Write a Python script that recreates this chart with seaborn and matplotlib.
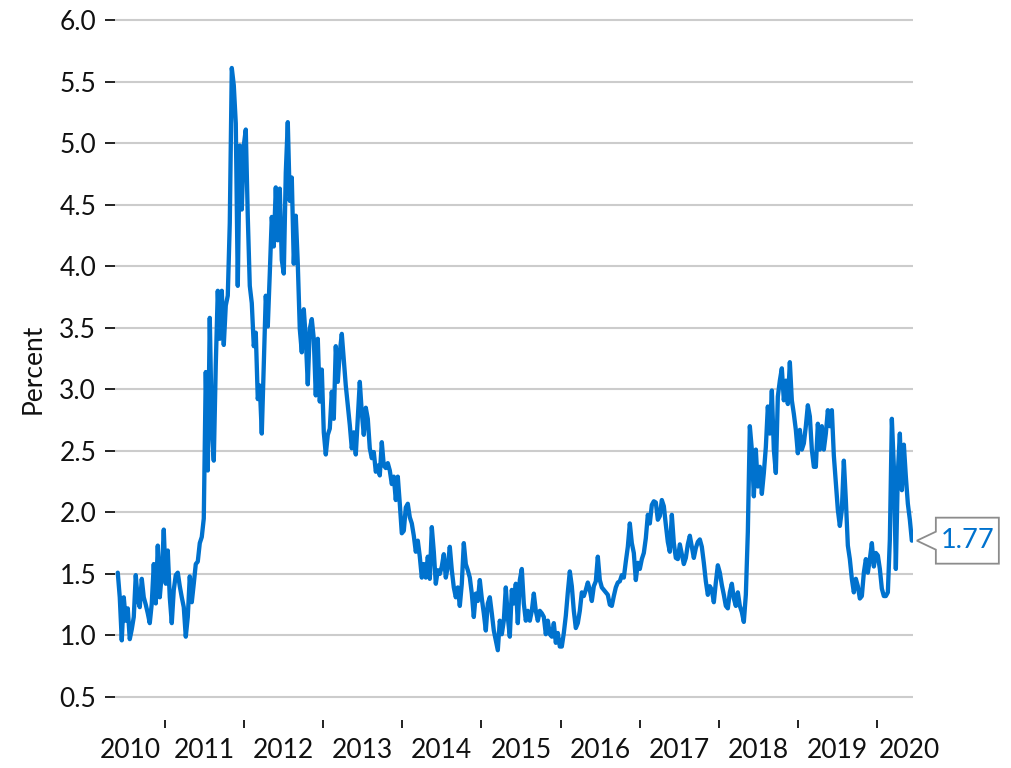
import numpy as np
import pandas as pd
import matplotlib
matplotlib.use("Agg")
import matplotlib.pyplot as plt
import matplotlib.dates as mdates
from matplotlib.patches import Polygon
from matplotlib.transforms import Affine2D, ScaledTranslation
import seaborn as sns

# ---------------- data ----------------
start_date = "2010-05-28"
end_date = "2020-06-10"

values_2010_2011 = [
    1.51, 1.31, 0.96, 1.31, 1.12, 1.22, 0.97, 1.05, 1.15, 1.49, 1.29, 1.23, 1.46, 1.31,
    1.25, 1.18, 1.10, 1.26, 1.58, 1.26, 1.73, 1.31, 1.50, 1.86, 1.42, 1.69, 1.31, 1.10,
    1.37, 1.49, 1.51, 1.40, 1.31, 1.23, 0.99, 1.15, 1.48, 1.27, 1.42, 1.58, 1.60, 1.75,
    1.80, 1.95, 3.14, 2.34, 3.58, 2.69, 2.42, 3.20, 3.80, 3.41, 3.80, 3.36, 3.68, 3.76,
    4.35, 5.61, 5.47, 5.16, 3.84, 4.98, 4.46, 4.98, 5.11, 4.40, 3.84, 3.70, 3.35, 3.46,
    2.92, 3.03, 2.64, 3.19, 3.76, 3.51, 3.94, 4.40, 4.16, 4.64, 4.21, 4.63, 4.05, 3.94,
]
values_2012_2014 = [
    4.76, 5.17, 4.53, 4.72, 4.02, 4.41, 4.02, 3.49, 3.30, 3.65, 3.41, 3.04, 3.49, 3.57,
    3.41, 2.95, 3.41, 2.90, 3.16, 2.65, 2.47, 2.63, 2.68, 2.98, 2.76, 3.35, 3.06, 3.30,
    3.45, 3.24, 3.03, 2.87, 2.71, 2.52, 2.65, 2.47, 2.76, 3.06, 2.81, 2.63, 2.85, 2.76,
    2.52, 2.44, 2.49, 2.33, 2.38, 2.30, 2.57, 2.38, 2.36, 2.40, 2.34, 2.23, 2.29, 2.10,
    2.29, 2.07, 1.83, 1.85, 2.04, 2.07, 1.96, 1.91, 1.81, 1.68, 1.77, 1.64, 1.47, 1.58,
    1.47, 1.64, 1.46, 1.88, 1.68, 1.42, 1.53, 1.50, 1.56, 1.66, 1.47, 1.56, 1.72, 1.53,
    1.39, 1.31, 1.39, 1.24, 1.42, 1.75, 1.58, 1.53, 1.47, 1.34, 1.15, 1.34, 1.28, 1.45,
]
values_2015_2017 = [
    1.30, 1.18, 1.04, 1.26, 1.31, 1.18, 1.04, 0.96, 0.88, 1.12, 1.01, 1.12, 1.39, 1.15,
    0.99, 1.37, 1.26, 1.42, 1.10, 1.45, 1.54, 1.26, 1.12, 1.20, 1.12, 1.20, 1.34, 1.20,
    1.12, 1.20, 1.18, 1.15, 1.01, 1.12, 1.01, 0.99, 1.10, 0.94, 1.02, 0.91, 0.91, 1.02,
    1.16, 1.35, 1.52, 1.40, 1.20, 1.06, 1.10, 1.20, 1.35, 1.32, 1.37, 1.43, 1.37, 1.28,
    1.40, 1.44, 1.64, 1.45, 1.39, 1.37, 1.35, 1.33, 1.25, 1.24, 1.32, 1.39, 1.43, 1.44,
    1.49, 1.47, 1.60, 1.72, 1.91, 1.75, 1.67, 1.45, 1.59, 1.54, 1.62, 1.67, 1.79, 1.98,
    1.91, 2.06, 2.09, 2.08, 1.94, 1.97, 2.10, 2.05, 1.90, 1.76, 1.68, 1.98, 1.75, 1.63,
    1.62, 1.74, 1.66, 1.58, 1.63, 1.74, 1.81, 1.72, 1.63, 1.71, 1.76, 1.78, 1.72, 1.59,
    1.44, 1.33, 1.40,
]
values_2018_2020 = [
    1.37, 1.27, 1.43, 1.57, 1.51, 1.41, 1.33, 1.24, 1.22, 1.35, 1.42, 1.30, 1.24, 1.35,
    1.24, 1.19, 1.11, 1.33, 1.84, 2.70, 2.51, 2.13, 2.51, 2.21, 2.37, 2.15, 2.32, 2.53,
    2.86, 2.64, 2.99, 2.51, 2.32, 2.94, 3.07, 3.17, 2.91, 3.07, 2.88, 3.22, 2.91, 2.80,
    2.67, 2.48, 2.67, 2.51, 2.56, 2.70, 2.87, 2.78, 2.51, 2.37, 2.37, 2.72, 2.51, 2.70,
    2.51, 2.64, 2.83, 2.70, 2.83, 2.46, 2.24, 2.02, 1.89, 2.02, 2.42, 2.10, 1.73, 1.62,
    1.46, 1.35, 1.46, 1.40, 1.30, 1.32, 1.51, 1.62, 1.51, 1.62, 1.75, 1.56, 1.67, 1.65,
    1.54, 1.38, 1.32, 1.32, 1.35, 1.78, 2.76, 2.37, 1.54, 2.32, 2.64, 2.18, 2.55, 2.29,
    2.07, 1.94, 1.77,
]

years = [str(y) for y in range(2010, 2021)]
year_label_dates = ["2010-07-23"] + [f"{y}-07-02" for y in range(2011, 2020)] + ["2020-05-28"]
yticks = [0.5, 1.0, 1.5, 2.0, 2.5, 3.0, 3.5, 4.0, 4.5, 5.0, 5.5, 6.0]
ylabel = "Percent"

# ---------------- build frame ----------------
values = values_2010_2011 + values_2012_2014 + values_2015_2017 + values_2018_2020
dates = pd.date_range(start_date, end_date, periods=len(values))
df = pd.DataFrame({"date": dates, "value": values})

# ---------------- style ----------------
sns.set_style("white")
plt.rcParams["font.family"] = ["Lato", "DejaVu Sans"]

BLUE = "#0072CE"
GRID = "#CCCCCC"
TXT = "#111111"

fig = plt.figure(figsize=(10.11, 7.68), dpi=100)
ax = fig.add_axes([0.1137, 0.0620, 0.7893, 0.9168])

sns.lineplot(data=df, x="date", y="value", ax=ax, color=BLUE, linewidth=3.1)

ax.set_xlim(pd.Timestamp("2010-05-15"), pd.Timestamp("2020-06-15"))
ax.set_ylim(0.31, 6.03)

for s in ax.spines.values():
    s.set_visible(False)

ax.set_yticks(yticks)
ax.set_yticklabels([f"{v:.1f}" for v in yticks])
ax.yaxis.grid(True, color=GRID, linewidth=1.5)
ax.xaxis.grid(False)
ax.set_axisbelow(True)
ax.tick_params(axis="y", which="major", direction="out", length=7.5, width=1.3,
               color=TXT, labelsize=19, labelcolor=TXT, pad=6, left=True)

# year boundary tick marks (no labels), year labels as minor ticks
ax.set_xticks([pd.Timestamp(f"{y}-01-01") for y in range(2011, 2021)])
ax.set_xticklabels([])
ax.set_xticks([pd.Timestamp(d) for d in year_label_dates], minor=True)
ax.set_xticklabels(years, minor=True)
ax.tick_params(axis="x", which="major", direction="out", length=6, width=1.3,
               color=TXT, bottom=True)
ax.tick_params(axis="x", which="minor", length=0, labelsize=19, labelcolor=TXT, pad=13)

ax.set_xlabel("")
ax.set_ylabel(ylabel, fontsize=19, color=TXT, labelpad=10)

# ---------------- last value callout ----------------
last_x = mdates.date2num(df["date"].iloc[-1])
last_y = df["value"].iloc[-1]
px = fig.dpi / 100.0
anchor = ScaledTranslation(last_x, last_y, ax.transData)
trans = Affine2D().scale(px, px) + anchor
verts = [(5, 0), (24, 9), (24, 23), (87, 23), (87, -23), (24, -23), (24, -9)]
poly = Polygon(verts, closed=True, transform=trans, facecolor="white",
               edgecolor="#8C8C8C", linewidth=1.3, clip_on=False, zorder=5)
ax.add_patch(poly)
ax.text(55.5, 0, f"{last_y:.2f}", transform=trans, ha="center", va="center",
        fontsize=19.5, color=BLUE, zorder=6, clip_on=False)

fig.savefig("out.png", dpi=100)
